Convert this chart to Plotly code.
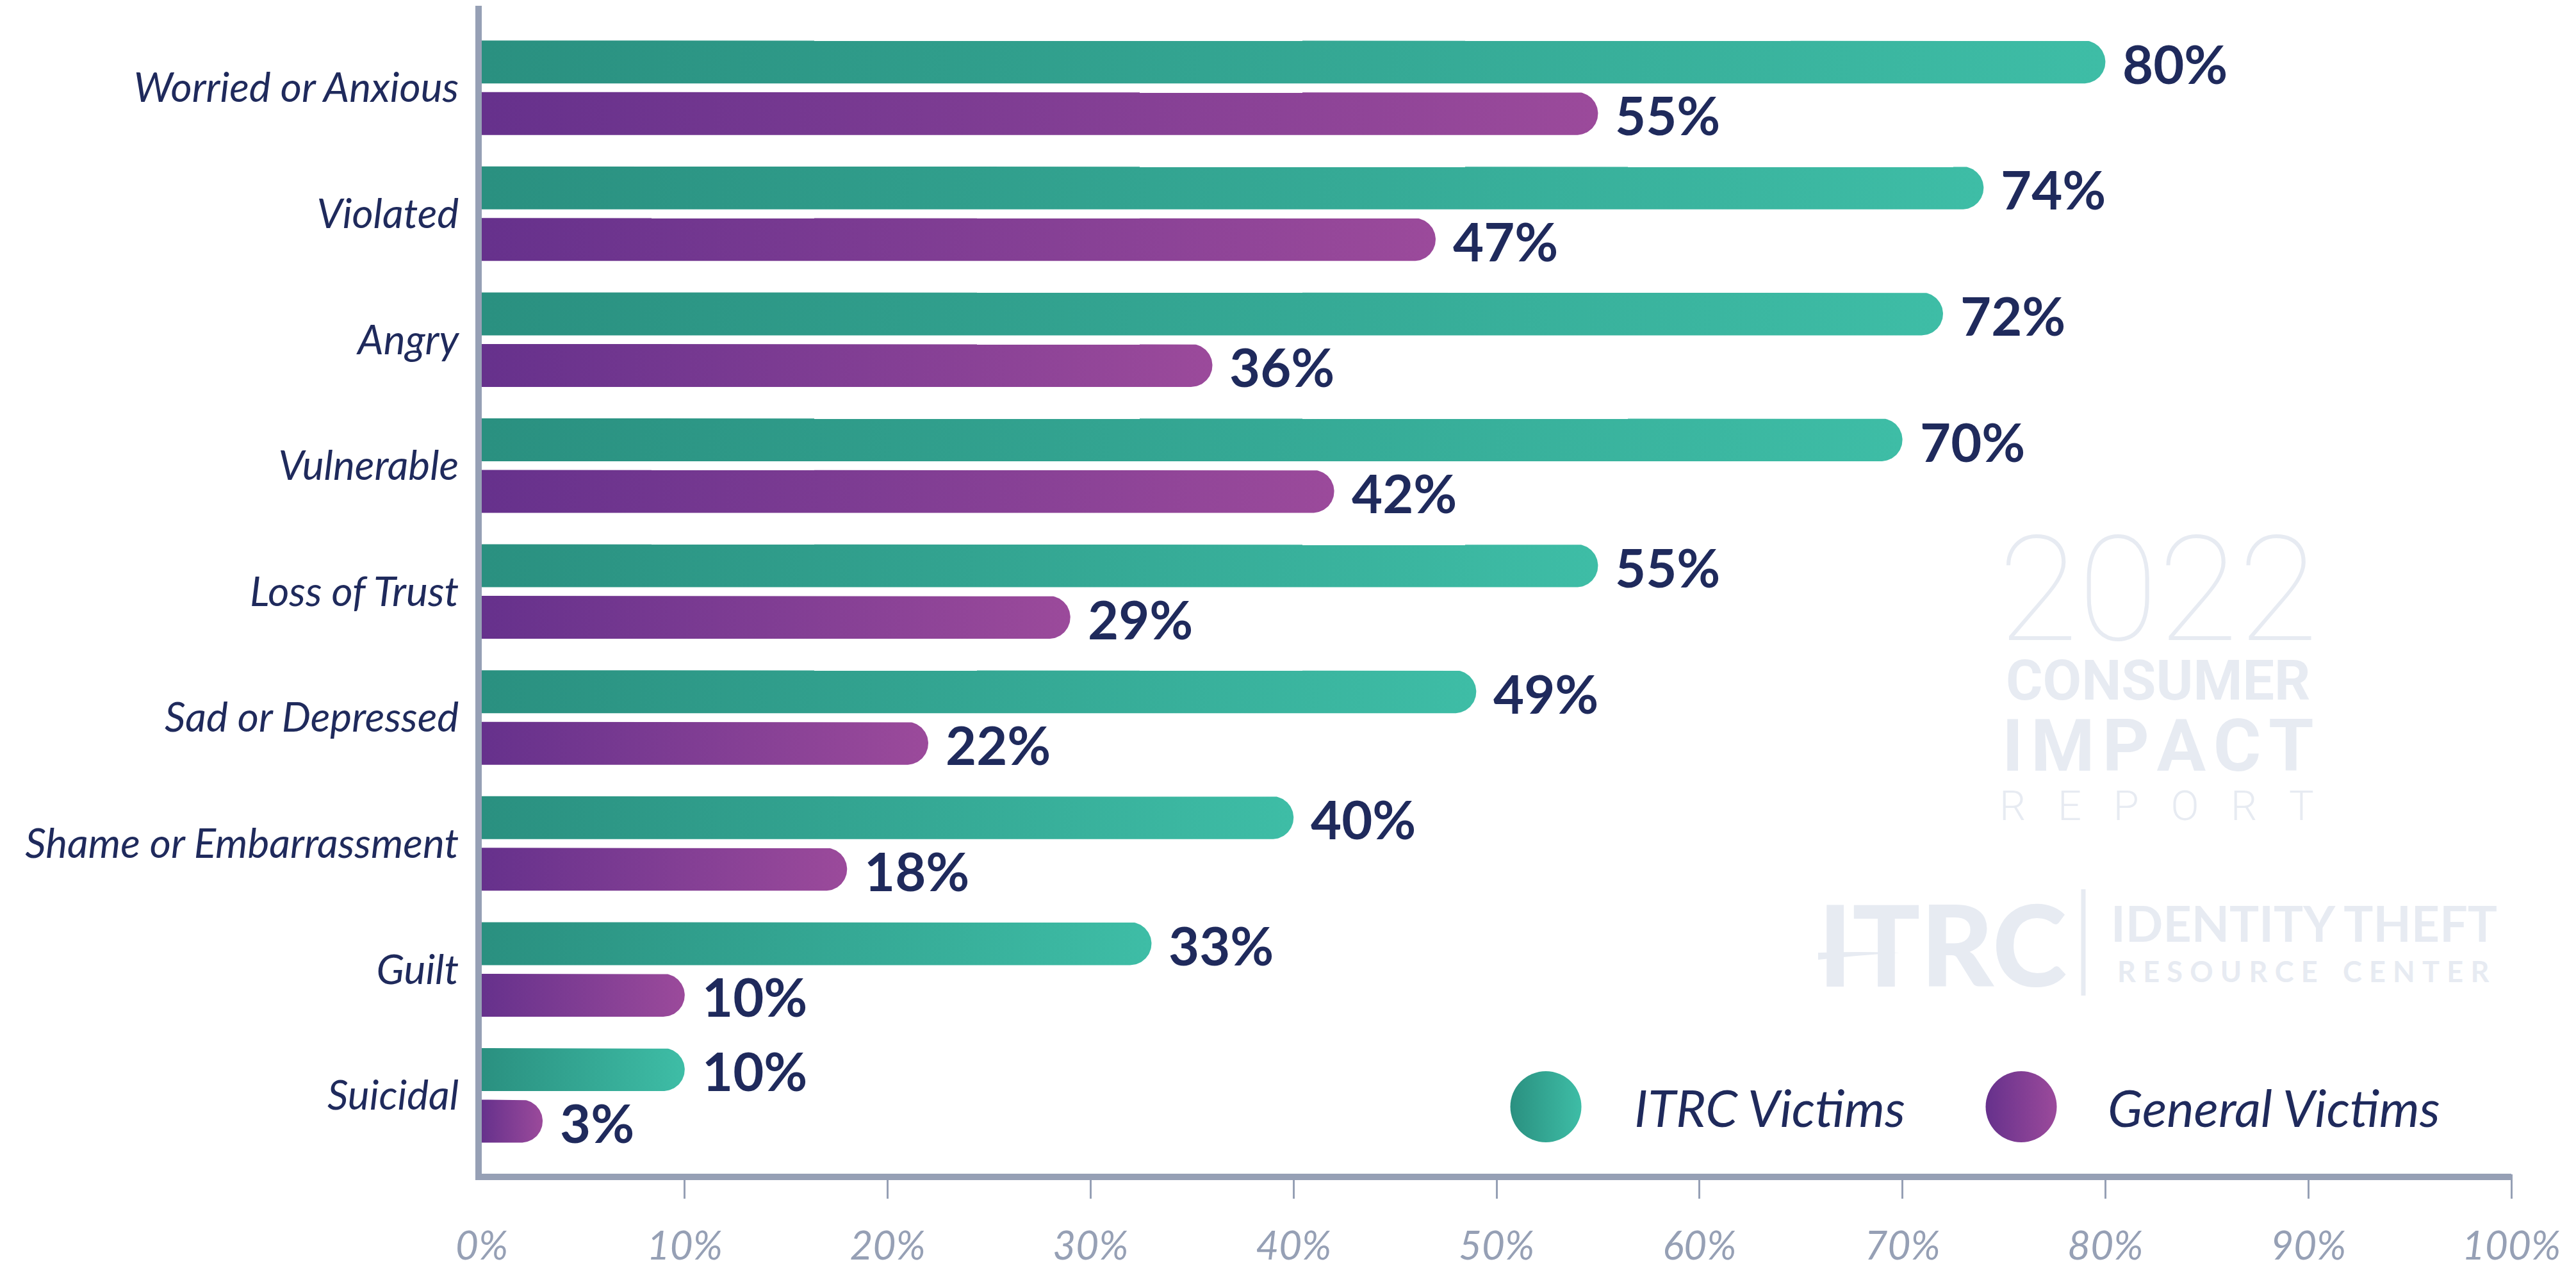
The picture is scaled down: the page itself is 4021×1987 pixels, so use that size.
import numpy as np
import plotly.graph_objects as go

# ---- data -----------------------------------------------------------------
CATEGORIES = [
    "Worried or Anxious",
    "Violated",
    "Angry",
    "Vulnerable",
    "Loss of Trust",
    "Sad or Depressed",
    "Shame or Embarrassment",
    "Guilt",
    "Suicidal",
]
ITRC_VICTIMS = [80, 74, 72, 70, 55, 49, 40, 33, 10]
GENERAL_VICTIMS = [55, 47, 36, 42, 29, 22, 18, 10, 3]
SERIES_NAMES = ["ITRC Victims", "General Victims"]
X_TICKS = [0, 10, 20, 30, 40, 50, 60, 70, 80, 90, 100]
X_TICK_TEXT = [f"{t}%" for t in X_TICKS]

# ---- styling --------------------------------------------------------------
W, H = 4021, 1987
PLOT_L, PLOT_R, PLOT_T, PLOT_B = 752, 3920, 9, 1832
X_RANGE = [0, 100]
Y_TOP, Y_BOTTOM = -0.651, 8.622          # category index units, first row at top
BAR_H_PX = 67                             # bar thickness in pixels
SLOT_PX = 80.5                            # distance between the two bar centres

NAVY = "#1f2a5c"
AXIS_GRAY = "#96a0b5"
MARK_GRAY = "#e7ebf2"
TEAL = ("#2a9080", "#3ebda6")
PURPLE = ("#66318c", "#9b4a9b")

px_per_x = (PLOT_R - PLOT_L) / (X_RANGE[1] - X_RANGE[0])
px_per_y = (PLOT_B - PLOT_T) / (Y_BOTTOM - Y_TOP)


def bar_outline(value, yc):
    """Outline of a horizontal bar with a round cap at its value end."""
    ry = BAR_H_PX / 2 / px_per_y
    rx = BAR_H_PX / 2 / px_per_x
    t = np.linspace(-np.pi / 2, np.pi / 2, 61)
    xs = np.concatenate([[0], value - rx + rx * np.cos(t), [0]])
    ys = np.concatenate([[yc - ry], yc + ry * np.sin(t), [yc + ry]])
    return xs, ys


fig = go.Figure()
annotations = []

offset = SLOT_PX / 2 / px_per_y
for values, colors, shift in [(ITRC_VICTIMS, TEAL, -offset), (GENERAL_VICTIMS, PURPLE, offset)]:
    for i, v in enumerate(values):
        yc = i + shift
        xs, ys = bar_outline(v, yc)
        fig.add_trace(go.Scatter(
            x=xs, y=ys, mode="lines", fill="toself",
            line=dict(width=0),
            fillgradient=dict(type="horizontal",
                              colorscale=[[0, colors[0]], [1, colors[1]]]),
            hoverinfo="skip", showlegend=False,
        ))
        annotations.append(dict(
            x=v, y=yc, xref="x", yref="y", text=f"{v}%",
            xanchor="left", yanchor="middle", xshift=25, yshift=-2,
            showarrow=False,
            font=dict(family="Lato", size=83, color=NAVY, weight="bold"),
        ))

# tick marks (no mark at the origin, where the y axis line sits)
fig.add_trace(go.Scatter(x=[None], y=[None], xaxis="x3", yaxis="y",
                         showlegend=False, hoverinfo="skip"))

# legend swatches on a pixel-unit overlay axis
LEG_Y = 1727.5
LEG_X = [2413, 3155]
LEG_TEXT_X = [2549, 3288]
for name, colors, lx, tx in zip(SERIES_NAMES, [TEAL, PURPLE], LEG_X, LEG_TEXT_X):
    fig.add_trace(go.Scatter(
        x=[lx], y=[LEG_Y], xaxis="x2", yaxis="y2", mode="markers",
        marker=dict(size=111, color=colors[0], line=dict(width=0),
                    gradient=dict(type="horizontal", color=colors[1])),
        hoverinfo="skip", showlegend=False,
    ))
    annotations.append(dict(
        x=tx, y=LEG_Y, xref="x2", yref="y2", text=name,
        xanchor="left", yanchor="middle", showarrow=False,
        font=dict(family="Lato", size=80, color=NAVY, style="italic"),
    ))


# ---- report watermark -----------------------------------------------------
def mark_text(text, x, y, size, family="Roboto", weight="normal", anchor="center"):
    annotations.append(dict(
        x=x, y=y, xref="x2", yref="y2", text=text, xanchor=anchor,
        yanchor="middle", showarrow=False,
        font=dict(family=family, size=size, color=MARK_GRAY, weight=weight),
    ))


def tracked(word, gap):
    """Letter-spaced word, using fixed-width space characters between letters."""
    return gap.join(word)


mark_text("2022", 3368, 921, 228, weight=100)
mark_text("CONSUMER", 3368, 1061, 88, weight="bold")
mark_text(tracked("IMPACT", "\u200a"), 3368, 1164, 114, weight="bold")
mark_text(tracked("REPORT", "\u2002\u2005"), 3366, 1258, 65, weight=300)

mark_text("ITRC", 2836, 1471, 176, family="Lato", weight=900, anchor="left")
mark_text("IDENTITY THEFT", 3293, 1440, 77, family="Lato", weight="bold", anchor="left")
mark_text("\u2002\u2005\u2009".join([tracked("RESOURCE", "\u2009\u2009"),
                                     tracked("CENTER", "\u2009\u2009")]),
          3595, 1516, 45, family="Lato", weight="bold")

shapes = [
    # swoosh cut through the logotype
    dict(type="path", xref="x2", yref="y2", layer="above",
         path="M 2830,1478 Q 2960,1452 3140,1461 L 3140,1487 Q 2960,1484 2830,1487 Z",
         fillcolor="white", line=dict(width=0)),
    dict(type="path", xref="x2", yref="y2", layer="above",
         path="M 2838,1487 Q 2900,1485 2965,1487 Q 2900,1491 2838,1498 Z",
         fillcolor=MARK_GRAY, line=dict(width=0)),
    # divider between logotype and name
    dict(type="line", xref="x2", yref="y2", x0=3252, x1=3252, y0=1388, y1=1554,
         line=dict(color=MARK_GRAY, width=7)),
]

fig.update_layout(
    width=W, height=H,
    margin=dict(l=PLOT_L, r=W - PLOT_R, t=PLOT_T, b=H - PLOT_B, pad=0),
    paper_bgcolor="white", plot_bgcolor="white",
    showlegend=False,
    annotations=annotations,
    shapes=shapes,
    xaxis=dict(
        range=X_RANGE, showline=True, linewidth=10, linecolor=AXIS_GRAY,
        tickvals=X_TICKS, ticktext=X_TICK_TEXT,
        ticks="outside", ticklen=38, tickwidth=3, tickcolor="rgba(0,0,0,0)",
        tickfont=dict(family="Lato", size=62, color=AXIS_GRAY, style="italic"),
        ticklabelstandoff=12,
        showgrid=False, zeroline=False, fixedrange=True,
    ),
    xaxis3=dict(
        range=X_RANGE, overlaying="x", anchor="y", side="bottom",
        tickvals=X_TICKS[1:], ticks="outside", ticklen=38, tickwidth=3,
        tickcolor=AXIS_GRAY, showticklabels=False, showline=False,
        showgrid=False, zeroline=False, fixedrange=True,
    ),
    yaxis=dict(
        range=[Y_BOTTOM, Y_TOP], tickvals=list(range(len(CATEGORIES))),
        ticktext=CATEGORIES, showline=True, linewidth=10, linecolor=AXIS_GRAY,
        ticks="", ticklabelstandoff=13,
        tickfont=dict(family="Lato", size=64, color=NAVY, style="italic"),
        showgrid=False, zeroline=False, fixedrange=True,
    ),
    xaxis2=dict(range=[PLOT_L, PLOT_R], overlaying="x", anchor="y2", visible=False,
                fixedrange=True),
    yaxis2=dict(range=[PLOT_B, PLOT_T], overlaying="y", anchor="x2", visible=False,
                fixedrange=True),
)

fig.write_html("out.html")
